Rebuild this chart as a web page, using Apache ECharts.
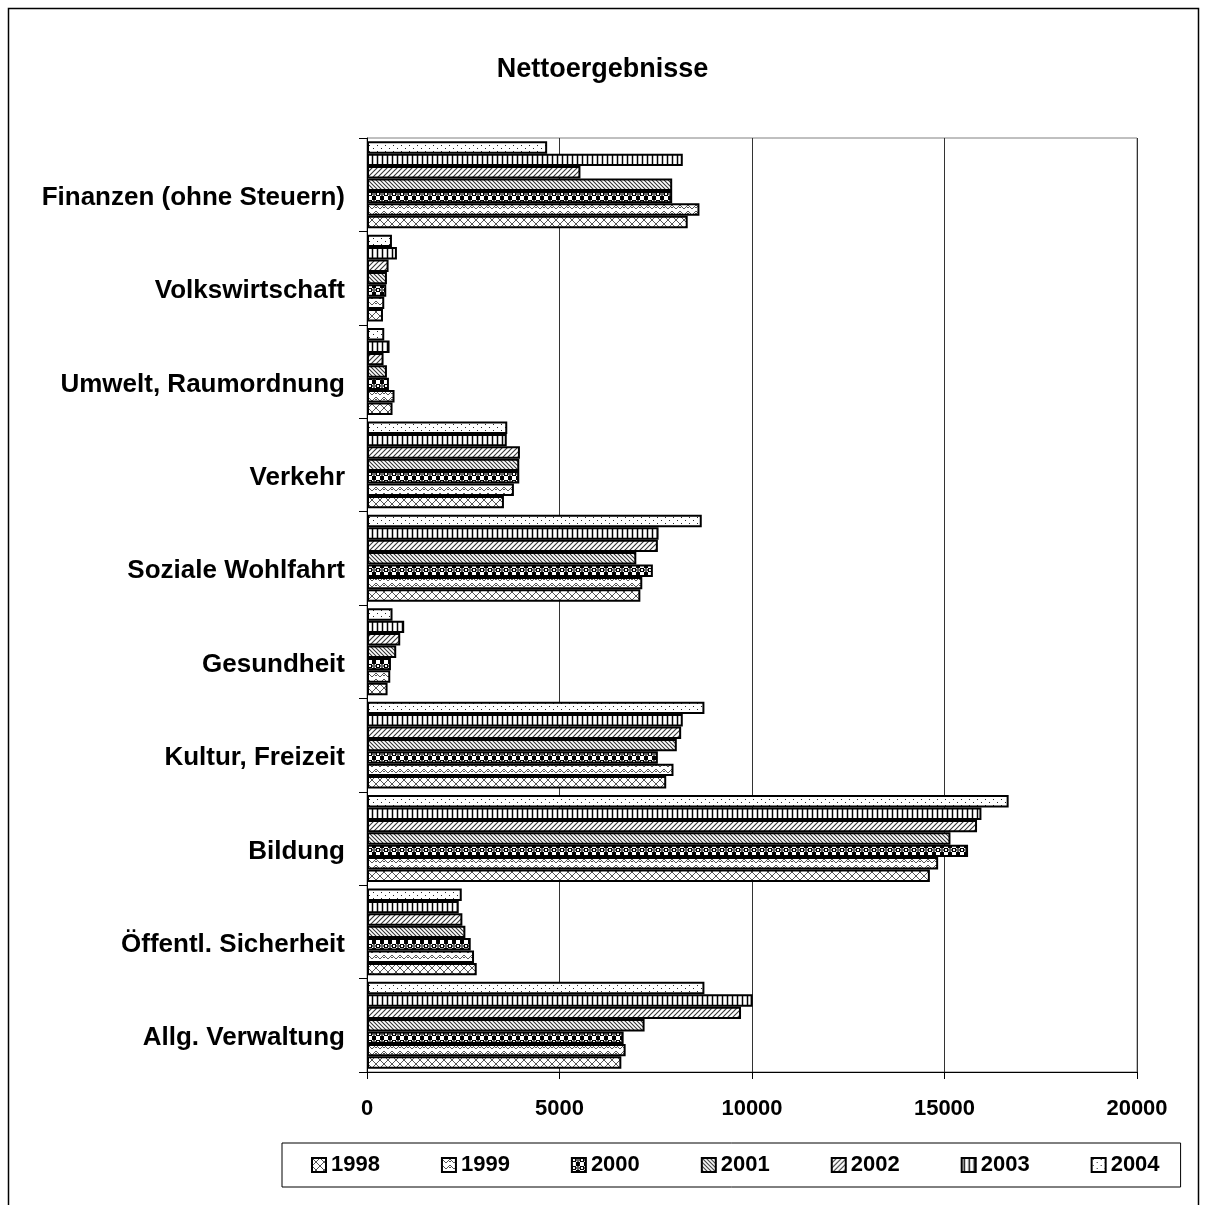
<!DOCTYPE html>
<html>
<head>
<meta charset="utf-8">
<script src="https://cdn.jsdelivr.net/npm/echarts@6/dist/echarts.min.js"></script>
<style>
html,body{margin:0;padding:0;background:#fff;}
#chart{width:1205px;height:1205px;}
</style>
</head>
<body>
<div id="chart"></div>
<script>
const categories = ['Finanzen (ohne Steuern)', 'Volkswirtschaft', 'Umwelt, Raumordnung', 'Verkehr', 'Soziale Wohlfahrt', 'Gesundheit', 'Kultur, Freizeit', 'Bildung', 'Öffentl. Sicherheit', 'Allg. Verwaltung'];
const years = ['1998', '1999', '2000', '2001', '2002', '2003', '2004'];
const y1998 = [8330, 415, 663, 3557, 7100, 534, 7772, 14620, 2850, 6606];
const y1999 = [8635, 448, 715, 3816, 7150, 604, 7961, 14835, 2780, 6718];
const y2000 = [7927, 500, 570, 3955, 7425, 622, 7555, 15612, 2694, 6666];
const y2001 = [7927, 518, 518, 3955, 6995, 759, 8047, 15155, 2555, 7210];
const y2002 = [5544, 560, 430, 3972, 7555, 863, 8160, 15845, 2477, 9715];
const y2003 = [8202, 777, 586, 3630, 7573, 966, 8202, 15959, 2383, 10016];
const y2004 = [4679, 648, 448, 3643, 8695, 663, 8764, 16666, 2461, 8764];
const xTicks = {min: 0, max: 20000, interval: 5000};

function tile(w, h, draw) {
  const c = document.createElement('canvas');
  c.width = w; c.height = h;
  const g = c.getContext('2d');
  g.fillStyle = '#fff';
  g.fillRect(0, 0, w, h);
  draw(g, w, h);
  return {image: c, repeat: 'repeat'};
}
function line(g, x1, y1, x2, y2, col, lw) {
  g.strokeStyle = col; g.lineWidth = lw;
  g.beginPath(); g.moveTo(x1, y1); g.lineTo(x2, y2); g.stroke();
}
const patterns = {
  '1998': tile(8, 8, (g) => {
    line(g, -1, -1, 9, 9, '#555', 1);
    line(g, 9, -1, -1, 9, '#555', 1);
  }),
  '1999': tile(8, 6, (g) => {
    g.strokeStyle = '#555'; g.lineWidth = 1;
    g.beginPath(); g.moveTo(0, 1); g.lineTo(4, 5); g.lineTo(8, 1); g.stroke();
    g.beginPath(); g.moveTo(0, 4); g.lineTo(2, 2); g.stroke();
    g.beginPath(); g.moveTo(6, 2); g.lineTo(8, 4); g.stroke();
  }),
  '2000': tile(8, 8, (g) => {
    g.fillStyle = '#000';
    g.fillRect(0, 0, 4, 4);
    g.fillRect(4, 4, 4, 4);
    g.fillStyle = '#fff';
    g.fillRect(1, 1, 2, 2);
    g.strokeStyle = '#000'; g.lineWidth = 1;
    g.beginPath(); g.arc(6, 2, 1.3, 0, Math.PI * 2); g.stroke();
  }),
  '2001': tile(4, 4, (g) => {
    line(g, -1, -1, 5, 5, '#333', 1.1);
    line(g, 3, -1, 5, 1, '#333', 1.1);
    line(g, -1, 3, 1, 5, '#333', 1.1);
  }),
  '2002': tile(5, 5, (g) => {
    line(g, -1, 6, 6, -1, '#333', 1.1);
    line(g, -1, 1, 1, -1, '#333', 1.1);
    line(g, 4, 6, 6, 4, '#333', 1.1);
  }),
  '2003': tile(5, 4, (g) => {
    line(g, 2.5, 0, 2.5, 4, '#000', 1.5);
  }),
  '2004': tile(8, 6, (g) => {
    g.fillStyle = '#222';
    g.fillRect(1, 1, 1, 1);
    g.fillRect(5, 4, 1, 1);
  })
};
const values = {'1998': y1998, '1999': y1999, '2000': y2000, '2001': y2001, '2002': y2002, '2003': y2003, '2004': y2004};

const FONT = "'Liberation Sans', Arial, sans-serif";
// series are listed 2004 first so that 1998 sits at the bottom of each group
const series = years.slice().reverse().map(y => ({
  name: y,
  type: 'bar',
  data: values[y],
  barGap: '0%',
  barCategoryGap: '7%',
  itemStyle: {color: patterns[y], borderColor: '#000', borderWidth: 2},
  emphasis: {disabled: true},
  animation: false
}));

const chart = echarts.init(document.getElementById('chart'), null, {renderer: 'canvas'});
chart.setOption({
  animation: false,
  backgroundColor: '#fff',
  title: {
    text: 'Nettoergebnisse',
    left: 'center',
    top: 51,
    textStyle: {fontFamily: FONT, fontWeight: 'bold', fontSize: 27, color: '#000'}
  },
  graphic: [{
    type: 'rect', left: 6, top: 6, silent: true,
    shape: {width: 1190, height: 1300},
    style: {fill: 'none', stroke: '#000', lineWidth: 1.5}
  }],
  legend: {
    data: years,
    left: 282, top: 1143,
    orient: 'horizontal',
    padding: [11, 21, 11, 29],
    itemGap: 61,
    itemWidth: 14, itemHeight: 14,
    icon: 'rect',
    borderColor: '#000', borderWidth: 1,
    selectedMode: false,
    textStyle: {fontFamily: FONT, fontWeight: 'bold', fontSize: 22, color: '#000'}
  },
  grid: {
    left: 367, right: 68, top: 138, bottom: 133,
    show: true, borderColor: '#808080', borderWidth: 1,
    containLabel: false
  },
  xAxis: {
    type: 'value',
    min: xTicks.min, max: xTicks.max, interval: xTicks.interval,
    axisLine: {show: true, lineStyle: {color: '#000', width: 1}},
    axisTick: {show: true, length: 7, lineStyle: {color: '#000'}},
    splitLine: {show: true, lineStyle: {color: '#333', width: 1}},
    axisLabel: {margin: 26, formatter: (v) => String(v), fontFamily: FONT, fontWeight: 'bold', fontSize: 22, color: '#000'}
  },
  yAxis: {
    type: 'category',
    data: categories,
    inverse: true,
    axisLine: {show: true, lineStyle: {color: '#000', width: 1}},
    axisTick: {show: true, length: 8, lineStyle: {color: '#000'}},
    axisLabel: {margin: 22, verticalAlign: 'top', fontFamily: FONT, fontWeight: 'bold', fontSize: 26, color: '#000'}
  },
  series: series
});
</script>
</body>
</html>
